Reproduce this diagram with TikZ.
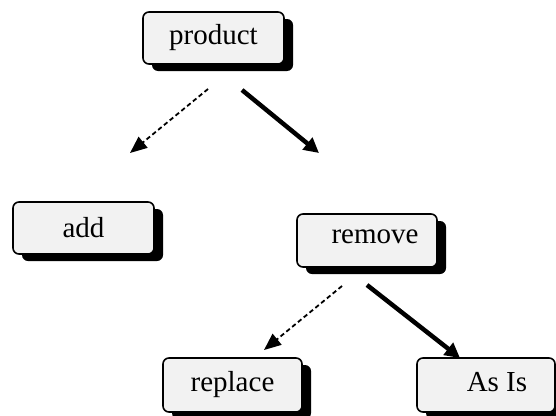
\documentclass[tikz,border=0pt]{standalone}
\usepackage{fontspec}
\setmainfont{Liberation Serif}
\usetikzlibrary{arrows.meta,shadows}
\begin{document}
\begin{tikzpicture}[x=1pt,y=-1pt,
  box/.style={draw=black, line width=1.6pt, fill={rgb,255:red,242;green,242;blue,242},
    rounded corners=6pt, inner sep=0pt,
    font=\fontsize{29}{32}\selectfont,
    drop shadow={shadow xshift=9pt, shadow yshift=-7pt, fill=black, opacity=1}},
  dasharrow/.style={line width=1.8pt, dash pattern=on 4.5pt off 3pt,
    -{Triangle[length=17pt,width=14pt]}},
  thickarrow/.style={line width=4.5pt, -{Triangle[length=15pt,width=15pt]}}]
\useasboundingbox (0,0) rectangle (556,415);
\node[box, minimum width=141pt, minimum height=52pt] (product) at (213.5,38) {product};
\node[box, minimum width=141pt, minimum height=52pt] (add) at (83.5,228) {\raisebox{-4pt}{add}};
\node[box, minimum width=140pt, minimum height=53pt] (remove) at (367,240.5) {\raisebox{8pt}{\hspace{16pt}remove}};
\node[box, minimum width=139pt, minimum height=54pt] (replace) at (232.5,385) {\raisebox{3pt}{replace}};
\node[box, minimum width=138pt, minimum height=54pt] (asis) at (486,385) {\raisebox{7pt}{\hspace{22pt}As Is}};
\coordinate (a1s) at (208,89);
\coordinate (a1e) at (130,153);
\coordinate (a2s) at (242,90);
\coordinate (a2e) at (319,153);
\coordinate (a3s) at (342,286);
\coordinate (a3e) at (264,350);
\coordinate (a4s) at (367,285);
\coordinate (a4e) at (460,358);
\draw[dasharrow] (a1s) -- (a1e);
\draw[thickarrow] (a2s) -- (a2e);
\draw[dasharrow] (a3s) -- (a3e);
\draw[thickarrow] (a4s) -- (a4e);
\end{tikzpicture}
\end{document}
